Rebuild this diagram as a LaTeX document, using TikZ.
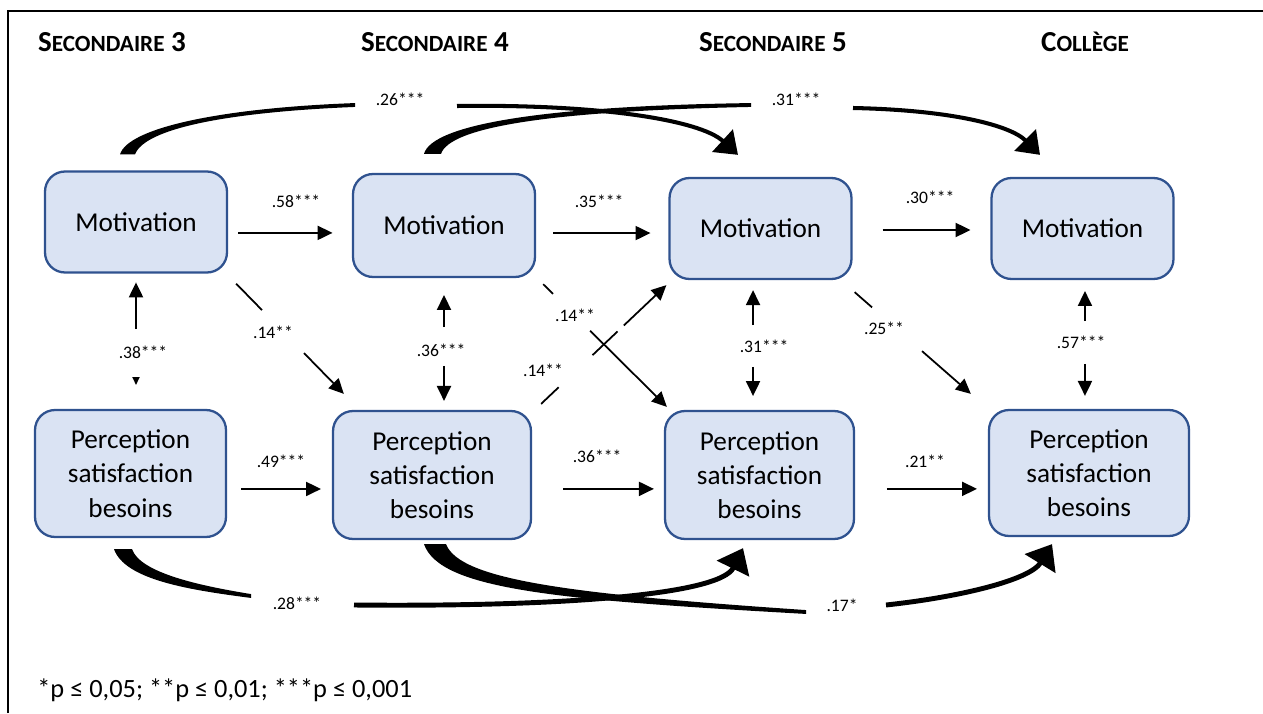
\documentclass[tikz,border=0pt]{standalone}
\usepackage{fontspec}
\setmainfont{Carlito}
\usetikzlibrary{arrows.meta,positioning}

\definecolor{boxfill}{HTML}{DAE3F3}
\definecolor{boxline}{HTML}{2F528F}

% titres de colonnes en petites capitales (faites a la main)
\newcommand{\entete}[3]{{\fontsize{16.5}{16}\selectfont #1}{\fontsize{13.2}{13}\selectfont #2}{\fontsize{16.5}{16}\selectfont #3}}

\begin{document}
\begin{tikzpicture}[
    x=0.02cm, y=-0.02cm,
    >={Triangle[length=8.5pt,width=8pt]},
    % Styles
    var/.style={draw=boxline, line width=1.3pt, fill=boxfill, rounded corners=0.4cm,
        align=center, inner sep=0pt, minimum width=3.64cm, minimum height=2.02cm,
        font=\fontsize{15.5}{19.5}\selectfont},
    coef/.style={inner sep=0pt, font=\fontsize{10}{12}\selectfont},
    titre/.style={anchor=base, font=\bfseries},
    arr/.style={->, line width=1pt},
    ln/.style={line width=1pt},
    curve/.style={line width=2.3pt, -{Triangle[length=12pt,width=17pt]}},
    bigcurve/.style={line width=2.8pt, -{Triangle[length=13pt,width=20pt]}}
]

\useasboundingbox (0,0) rectangle (1263,713);
\draw[line width=1.7pt] (8,713) -- (8,11) -- (1270,11);

% --- titres ---
\node[titre] (h3) at (112,52) {\entete{S}{ECONDAIRE}{ 3}};
\node[titre] (h4) at (435,52) {\entete{S}{ECONDAIRE}{ 4}};
\node[titre] (h5) at (773,52) {\entete{S}{ECONDAIRE}{ 5}};
\node[titre] (hc) at (1085,52) {\entete{C}{OLLÈGE}{}};

% --- variables ---
\node[var] (M1) at (136,222) {Motivation};
\node[var, minimum height=2.06cm] (M2) at (444,225.5) {Motivation};
\node[var] (M3) at (760.5,228.5) {Motivation};
\node[var] (M4) at (1082.5,228.5) {Motivation};

\node[var, minimum width=3.82cm, minimum height=2.54cm] (P1) at (130.5,473.5) {Perception\\satisfaction\\besoins};
\node[var, minimum width=3.96cm, minimum height=2.56cm] (P2) at (432,475) {Perception\\satisfaction\\besoins};
\node[var, minimum width=3.78cm, minimum height=2.56cm] (P3) at (759.5,475) {Perception\\satisfaction\\besoins};
\node[var, minimum width=4cm, minimum height=2.52cm] (P4) at (1089,473) {Perception\\satisfaction\\besoins};

% --- stabilite (horizontal) ---
\draw[arr, shorten <=5.7pt, shorten >=11pt] ([yshift=-6.2pt]M1.east) -- ([yshift=-6.2pt]M1.east -| M2.west);
\draw[arr, shorten <=9.6pt, shorten >=10.2pt] ([yshift=-4.3pt]M2.east) -- ([yshift=-4.3pt]M2.east -| M3.west);
\draw[arr, shorten <=17pt, shorten >=11.3pt] ([yshift=-0.85pt]M3.east) -- ([yshift=-0.85pt]M3.east -| M4.west);
\draw[arr, shorten <=7.9pt, shorten >=6.2pt] ([yshift=-8.8pt]P1.east) -- ([yshift=-8.8pt]P1.east -| P2.west);
\draw[arr, shorten <=17.6pt, shorten >=5.7pt] ([yshift=-7.9pt]P2.east) -- ([yshift=-7.9pt]P2.east -| P3.west);
\draw[arr, shorten <=18.1pt, shorten >=6.2pt] ([yshift=-7.9pt]P3.east) -- ([yshift=-7.9pt]P3.east -| P4.west);

\node[coef] (c58) at (296,201) {.58***};
\node[coef] (c35) at (599,201) {.35***};
\node[coef] (c30) at (930,197) {.30***};
\node[coef] (c49) at (281,461) {.49***};
\node[coef] (c36b) at (597,456) {.36***};
\node[coef] (c21) at (925,461) {.21**};

% --- correlations (vertical) ---
\node[coef] (c38) at (143,352) {.38***};
\node[coef] (c36a) at (441,350) {.36***};
\node[coef] (c31a) at (764,346) {.31***};
\node[coef] (c57) at (1081,342) {.57***};

\draw[arr, shorten <=13pt, shorten >=5pt] (M1.south |- c38) -- (M1.south);
\draw[-{Triangle[length=4.5pt,width=4pt]}, line width=1pt, shorten <=14.7pt, shorten >=13.6pt] (M1.south |- c38) -- (M1.south |- P1.north);
\draw[arr, shorten <=13pt, shorten >=9.6pt] (M2.south |- c36a) -- (M2.south);
\draw[arr, shorten <=9pt, shorten >=5.1pt] (M2.south |- c36a) -- (M2.south |- P2.north);
\draw[arr, shorten <=11.9pt, shorten >=5.7pt] ([xshift=-4.25pt]M3.south |- c31a) -- ([xshift=-4.25pt]M3.south);
\draw[arr, shorten <=11.9pt, shorten >=7.9pt] ([xshift=-4.25pt]M3.south |- c31a) -- ([xshift=-4.25pt]M3.south |- P3.north);
\draw[arr, shorten <=11.9pt, shorten >=6.2pt] ([xshift=1.4pt]M4.south |- c57) -- ([xshift=1.4pt]M4.south);
\draw[arr, shorten <=12.5pt, shorten >=7.4pt] ([xshift=1.4pt]M4.south |- c57) -- ([xshift=1.4pt]M4.south |- P4.north);

% --- effets croises (diagonales) ---
\path ([shift={(8,10)}]M1.south east) coordinate (d1s) -- ([shift={(12,-16)}]P2.north west) coordinate[pos=0.24] (d1a) coordinate[pos=0.63] (d1b) coordinate (d1e);
\draw[ln] (d1s) -- (d1a);
\draw[arr] (d1b) -- (d1e);
\node[coef] (c14a) at (273,332) {.14**};

\path ([shift={(7,6)}]M2.south east) coordinate (d2s) -- ([shift={(3,-3)}]P3.north west) coordinate[pos=0.08] (d2a) coordinate[pos=0.38] (d2b) coordinate (d2e);
\draw[ln] (d2s) -- (d2a);
\draw[arr] (d2b) -- (d2e);
\node[coef] (c14b) at (575,315) {.14**};

\path ([shift={(9,-6)}]P2.north east) coordinate (d3s) -- ([shift={(-2,5)}]M3.south west) coordinate[pos=0.14] (d3a) coordinate[pos=0.41] (d3b) coordinate[pos=0.61] (d3c) coordinate[pos=0.66] (d3d) coordinate (d3e);
\draw[ln] (d3s) -- (d3a);
\draw[ln] (d3b) -- (d3c);
\draw[arr] (d3d) -- (d3e);
\node[coef] (c14c) at (543,370) {.14**};

\path ([shift={(2,12)}]M3.south east) coordinate (d4s) -- ([shift={(-17,-15)}]P4.north west) coordinate[pos=0.15] (d4a) coordinate[pos=0.58] (d4b) coordinate (d4e);
\draw[ln] (d4s) -- (d4a);
\draw[arr] (d4b) -- (d4e);
\node[coef] (c25) at (884,328) {.25**};

% --- effets a deux ans (courbes) ---
\node[coef] (c26) at (400,99) {.26***};
\node[coef] (c31b) at (796,99) {.31***};
\node[coef] (c28) at (297,603) {.28***};
\node[coef] (c17) at (842,605) {.17*};

\coordinate (a1g) at (355,105);
\coordinate (a1h) at (457,106);
\coordinate (a2g) at (751,105);
\coordinate (a2h) at (853,108);
\coordinate (b1g) at (251,596);
\coordinate (b1h) at (354,605);
\coordinate (b2g) at (806,612);
\coordinate (b2h) at (886,605);

% motivation S3 -> S5
\fill ([shift={(-16,-16)}]M1.north) .. controls (128,128) and (220,108) .. ([yshift=1.1pt]a1g)
    -- ([yshift=-1.1pt]a1g) .. controls (230,112) and (145,128) .. ([shift={(-1,-16)}]M1.north) -- cycle;
\draw[curve] (a1h) .. controls (600,104) and (700,120) .. ([shift={(-22.5,-22)}]M3.north);

% motivation S4 -> college
\fill ([shift={(-20,-19)}]M2.north) .. controls (432,125) and (540,106) .. ([yshift=1.1pt]a2g)
    -- ([yshift=-1.1pt]a2g) .. controls (550,111) and (450,127) .. ([shift={(-3,-19)}]M2.north) -- cycle;
\draw[curve] (a2h) .. controls (950,110) and (1010,125) .. ([shift={(-42.5,-22)}]M4.north);

% besoins S3 -> S5
\fill ([shift={(-16.5,11)}]P1.south) .. controls (125,580) and (190,590) .. ([yshift=-1.1pt]b1g)
    -- ([yshift=1.1pt]b1g) .. controls (195,585) and (140,572) .. ([shift={(1.5,11)}]P1.south) -- cycle;
\draw[bigcurve] (b1h) .. controls (560,607) and (720,595) .. ([shift={(-16.5,8)}]P3.south);

% besoins S4 -> college
\fill ([shift={(-8,4)}]P2.south) .. controls (440,590) and (560,600) .. ([yshift=-1.1pt]b2g)
    -- ([yshift=1.1pt]b2g) .. controls (570,594) and (460,580) .. ([shift={(14,4)}]P2.south) -- cycle;
\draw[bigcurve] (b2h) .. controls (960,597) and (1030,580) .. ([shift={(-37,7)}]P4.south);

% --- note ---
\node[anchor=base west, inner sep=0pt, font=\fontsize{15}{18}\selectfont] (note) at (37,697) {*p ≤ 0,05; **p ≤ 0,01; ***p ≤ 0,001};

\end{tikzpicture}
\end{document}
